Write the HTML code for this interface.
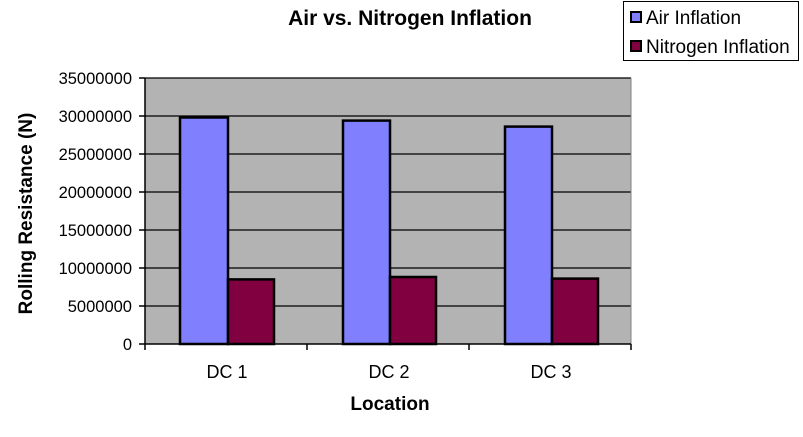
<!DOCTYPE html>
<html><head><style>body{margin:0;background:#fff}</style></head><body>
<svg width="803" height="432" xmlns="http://www.w3.org/2000/svg" font-family="Liberation Sans, Arial, sans-serif">
<rect x="145" y="78" width="486" height="266" fill="#b3b3b3"/>
<g stroke="#000" stroke-width="1.3">
<line x1="145" y1="78" x2="631" y2="78"/>
<line x1="145" y1="116" x2="631" y2="116"/>
<line x1="145" y1="154" x2="631" y2="154"/>
<line x1="145" y1="192" x2="631" y2="192"/>
<line x1="145" y1="230" x2="631" y2="230"/>
<line x1="145" y1="268" x2="631" y2="268"/>
<line x1="145" y1="306" x2="631" y2="306"/>
</g>
<line x1="631" y1="78" x2="631" y2="344" stroke="#808080" stroke-width="1"/>
<g stroke="#000" stroke-width="2.5">
<rect x="180" y="117.5" width="48" height="226.5" fill="#8080ff"/>
<rect x="228" y="279.4" width="46" height="64.6" fill="#800040"/>
<rect x="343" y="120.6" width="47" height="223.4" fill="#8080ff"/>
<rect x="390" y="277" width="46" height="67" fill="#800040"/>
<rect x="505" y="126.6" width="47" height="217.4" fill="#8080ff"/>
<rect x="552" y="278.6" width="46" height="65.4" fill="#800040"/>
</g>
<g stroke="#000" stroke-width="1.5">
<line x1="145" y1="78" x2="145" y2="350"/>
<line x1="145" y1="344" x2="631" y2="344"/>
<line x1="307" y1="344" x2="307" y2="350"/>
<line x1="469" y1="344" x2="469" y2="350"/>
<line x1="631" y1="344" x2="631" y2="350"/>
<line x1="139" y1="78" x2="145" y2="78"/><line x1="139" y1="116" x2="145" y2="116"/>
<line x1="139" y1="154" x2="145" y2="154"/><line x1="139" y1="192" x2="145" y2="192"/>
<line x1="139" y1="230" x2="145" y2="230"/><line x1="139" y1="268" x2="145" y2="268"/>
<line x1="139" y1="306" x2="145" y2="306"/><line x1="139" y1="344" x2="145" y2="344"/>
</g>
<g font-size="16.5" text-anchor="end" fill="#000">
<text x="132" y="84">35000000</text><text x="132" y="122">30000000</text>
<text x="132" y="160">25000000</text><text x="132" y="198">20000000</text>
<text x="132" y="236">15000000</text><text x="132" y="274">10000000</text>
<text x="132" y="312">5000000</text><text x="132" y="350">0</text>
</g>
<g font-size="18" text-anchor="middle">
<text x="227" y="378">DC 1</text><text x="389" y="378">DC 2</text><text x="551" y="378">DC 3</text>
</g>
<text x="390" y="410" font-size="19" font-weight="bold" text-anchor="middle">Location</text>
<text x="410" y="25" font-size="21" font-weight="bold" text-anchor="middle">Air vs. Nitrogen Inflation</text>
<text transform="translate(32,213.5) rotate(-90)" font-size="19" font-weight="bold" text-anchor="middle">Rolling Resistance (N)</text>
<rect x="623.5" y="1.5" width="175" height="59" fill="#fff" stroke="#000" stroke-width="1"/>
<rect x="631" y="12" width="10" height="10" fill="#8080ff" stroke="#000" stroke-width="2"/>
<rect x="631" y="41" width="10" height="10" fill="#800040" stroke="#000" stroke-width="2"/>
<text x="646" y="24" font-size="19">Air Inflation</text>
<text x="646" y="53" font-size="19">Nitrogen Inflation</text>
</svg>
</body></html>
